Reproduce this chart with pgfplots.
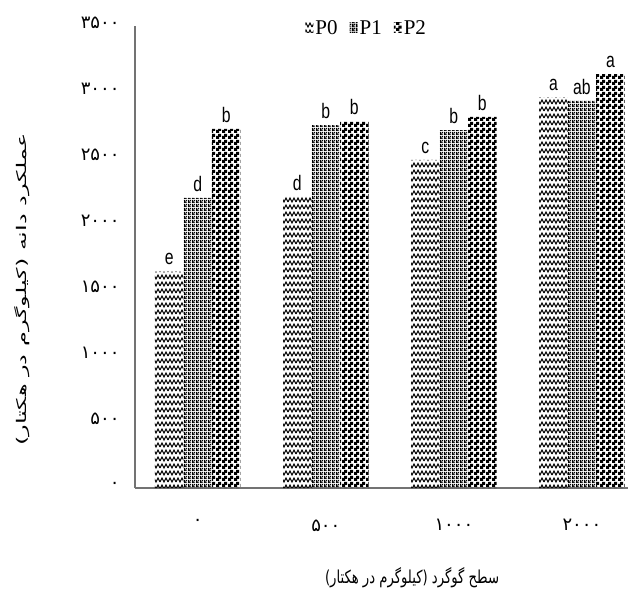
\documentclass[border=0pt]{standalone}
\usepackage{pgfplots}
\pgfplotsset{compat=1.18}
\usepackage{fontspec}
\usepackage{graphicx}
\usetikzlibrary{patterns}
\setmainfont{Liberation Serif}
\newfontfamily\arabicfont[Script=Arabic]{DejaVu Sans}
\newfontfamily\lettfont[FakeStretch=0.75]{Liberation Sans}
\TeXXeTstate=1

\pgfdeclarepatternformonly{zigzagP}{\pgfqpoint{-1pt}{-1pt}}{\pgfqpoint{9pt}{8pt}}{\pgfqpoint{8pt}{7pt}}{
 \pgfsetlinewidth{1.0pt}
 \pgfpathmoveto{\pgfqpoint{0pt}{1pt}}
 \pgfpathlineto{\pgfqpoint{2pt}{5pt}}
 \pgfpathlineto{\pgfqpoint{4pt}{1pt}}
 \pgfpathlineto{\pgfqpoint{6pt}{5pt}}
 \pgfpathlineto{\pgfqpoint{8pt}{1pt}}
 \pgfusepath{stroke}}
\pgfdeclarepatternformonly{meshP}{\pgfqpoint{0pt}{0pt}}{\pgfqpoint{4pt}{4pt}}{\pgfqpoint{4pt}{4pt}}{
 \pgfpathrectangle{\pgfqpoint{0pt}{0pt}}{\pgfqpoint{2pt}{2pt}}
 \pgfpathrectangle{\pgfqpoint{2pt}{2pt}}{\pgfqpoint{2pt}{2pt}}
 \pgfpathrectangle{\pgfqpoint{0pt}{0pt}}{\pgfqpoint{1.2pt}{4pt}}
 \pgfpathrectangle{\pgfqpoint{0pt}{0pt}}{\pgfqpoint{4pt}{0.8pt}}
 \pgfusepath{fill}}
\pgfdeclarepatternformonly{checkP}{\pgfqpoint{0pt}{0pt}}{\pgfqpoint{6pt}{6pt}}{\pgfqpoint{6pt}{6pt}}{
 \pgfpathrectangle{\pgfqpoint{0pt}{0pt}}{\pgfqpoint{3pt}{3pt}}
 \pgfpathrectangle{\pgfqpoint{3pt}{3pt}}{\pgfqpoint{3pt}{3pt}}
 \pgfpathrectangle{\pgfqpoint{0pt}{2.6pt}}{\pgfqpoint{6pt}{0.9pt}}
 \pgfpathrectangle{\pgfqpoint{2.6pt}{0pt}}{\pgfqpoint{0.9pt}{6pt}}
 \pgfusepath{fill}}

\begin{document}
\begin{tikzpicture}
\useasboundingbox (-135pt,-107pt) rectangle (500pt,488pt);
\begin{axis}[
 at={(0pt,0pt)}, anchor=south west,
 scale only axis, width=493pt, height=462pt,
 ybar=0pt, bar width=28.5pt,
 xmin=-0.49, xmax=3.36, ymin=0, ymax=3500,
 axis x line*=bottom, axis y line*=left,
 axis line style={draw=gray!90!black, line width=1.3pt, -},
 xtick={0,1,2,3},
 xticklabels={{\arabicfont ۰},{\arabicfont ۵۰۰},{\arabicfont ۱۰۰۰},{\arabicfont ۲۰۰۰}},
 ytick={0,500,1000,1500,2000,2500,3000,3500},
 yticklabels={{\arabicfont ۰},{\arabicfont ۵۰۰},{\arabicfont ۱۰۰۰},{\arabicfont ۱۵۰۰},{\arabicfont ۲۰۰۰},{\arabicfont ۲۵۰۰},{\arabicfont ۳۰۰۰},{\arabicfont ۳۵۰۰}},
 major tick length=0pt,
 ticklabel style={font=\fontsize{18}{18}\selectfont},
 yticklabel style={xshift=-12pt, yshift=3pt},
 xticklabel style={yshift=-28pt},
 xlabel={\resizebox{174pt}{16pt}{\arabicfont\beginR سطح گوگرد (کیلوگرم در هکتار)\endR}},
 xlabel style={at={(axis description cs:0.562,-0.195)}, anchor=center},
 ylabel={\resizebox{313pt}{12pt}{\arabicfont\beginR عملکرد دانه (کیلوگرم در هکتار)\endR}},
 ylabel style={at={(axis description cs:-0.229,0.43)}, anchor=center},
 point meta=explicit symbolic,
 nodes near coords,
 nodes near coords style={font=\lettfont\fontsize{21}{21}\selectfont, anchor=south, yshift=3pt},
 legend style={at={(0.47,0.996)}, anchor=center, draw=none, fill=none, legend columns=-1,
   font=\fontsize{21}{21}\selectfont,
   /tikz/every even column/.append style={column sep=10pt}},
 legend image code/.code={\path[#1] (0pt,-5pt) rectangle (8pt,5pt);},
]
\addplot[draw=none, pattern=zigzagP, pattern color=black] coordinates {(0,1640) [e] (1,2205) [d] (2,2485) [c] (3,2962) [a]};
\addplot[draw=none, pattern=meshP, pattern color=black] coordinates {(0,2197) [d] (1,2750) [b] (2,2712) [b] (3,2932) [ab]};
\addplot[draw=none, pattern=checkP, pattern color=black] coordinates {(0,2720) [b] (1,2780) [b] (2,2811) [b] (3,3136) [a]};
\legend{P0,P1,P2}
\end{axis}
\end{tikzpicture}
\end{document}
